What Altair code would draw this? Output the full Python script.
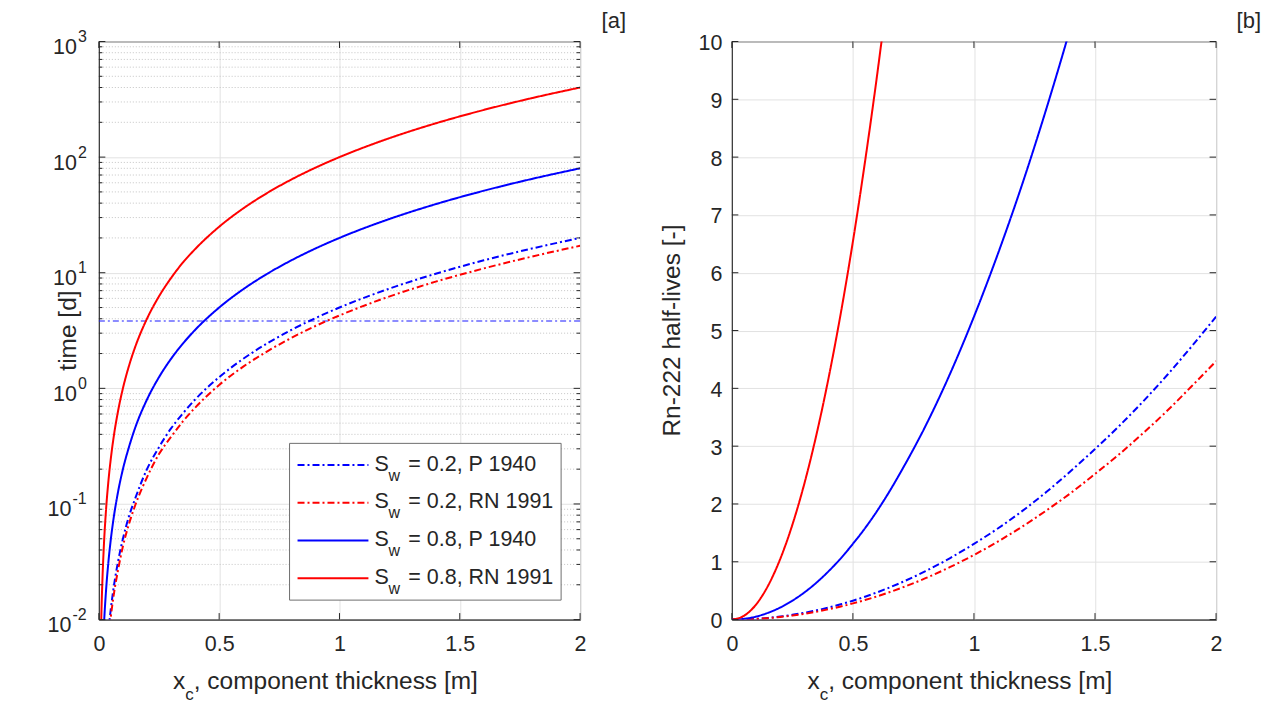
import altair as alt
import pandas as pd

# ---------------- data ----------------
series_keys = ["sw02_p1940", "sw02_rn1991", "sw08_p1940", "sw08_rn1991"]
series_colors = ["#0000ff", "#ff0000", "#0000ff", "#ff0000"]
series_dashes = [[7, 3, 2, 3], [7, 3, 2, 3], [1, 0], [1, 0]]
legend_sw = ["0.2", "0.2", "0.8", "0.8"]
legend_ref = ["P 1940", "RN 1991", "P 1940", "RN 1991"]

# panel [a]: time [d] (log axis)
x_a = [0.005, 0.01, 0.015, 0.02, 0.03, 0.04, 0.05, 0.06, 0.08, 0.1, 0.125, 0.15, 0.2,
       0.25, 0.3, 0.35, 0.4, 0.5, 0.6, 0.7, 0.8, 0.9, 1.0, 1.2, 1.4, 1.6, 1.8, 2.0]
t_sw02_p1940 = [0.000125, 0.0005, 0.0011, 0.002, 0.0045, 0.008, 0.0125, 0.018, 0.032, 0.05,
                0.078, 0.11, 0.2, 0.31, 0.45, 0.61, 0.8, 1.25, 1.8, 2.45, 3.2, 4.05, 5.0,
                7.2, 9.8, 12.8, 16.2, 20.0]
t_sw02_rn1991 = [0.0001, 0.00043, 0.00096, 0.0017, 0.0038, 0.0068, 0.0107, 0.0154, 0.027,
                 0.043, 0.067, 0.096, 0.17, 0.27, 0.38, 0.52, 0.68, 1.07, 1.54, 2.09, 2.73,
                 3.46, 4.27, 6.15, 8.37, 10.9, 13.8, 17.1]
t_sw08_p1940 = [0.0005, 0.002, 0.0045, 0.008, 0.018, 0.032, 0.05, 0.072, 0.128, 0.2, 0.31,
                0.45, 0.8, 1.25, 1.8, 2.45, 3.2, 5.0, 7.2, 9.8, 12.8, 16.2, 20.0, 28.8, 39.2,
                51.2, 64.8, 80.0]
t_sw08_rn1991 = [0.0025, 0.01, 0.0225, 0.04, 0.09, 0.16, 0.25, 0.36, 0.64, 1.0, 1.56, 2.25,
                 4.0, 6.25, 9.0, 12.3, 16.0, 25.0, 36.0, 49.0, 64.0, 81.0, 100.0, 144.0,
                 196.0, 256.0, 324.0, 400.0]
rn222_half_life_d = 3.82

# panel [b]: Rn-222 half-lives [-]
x_b = [0, 0.05, 0.1, 0.15, 0.2, 0.25, 0.3, 0.35, 0.4, 0.45, 0.5, 0.55, 0.6, 0.65, 0.7,
       0.8, 0.9, 1.0, 1.1, 1.2, 1.3, 1.4, 1.5, 1.6, 1.7, 1.8, 1.9, 2.0]
h_sw02_p1940 = [0, 0.0033, 0.013, 0.029, 0.052, 0.082, 0.118, 0.160, 0.209, 0.265, 0.327,
                0.396, 0.471, 0.553, 0.641, 0.838, 1.06, 1.31, 1.58, 1.88, 2.21, 2.57, 2.95,
                3.35, 3.78, 4.24, 4.73, 5.24]
h_sw02_rn1991 = [0, 0.0028, 0.011, 0.025, 0.045, 0.070, 0.101, 0.137, 0.179, 0.226, 0.280,
                 0.338, 0.402, 0.472, 0.548, 0.716, 0.906, 1.118, 1.353, 1.61, 1.89, 2.19,
                 2.52, 2.86, 3.23, 3.62, 4.04, 4.47]
h_sw08_p1940 = [0, 0.013, 0.052, 0.118, 0.209, 0.327, 0.471, 0.641, 0.838, 1.06, 1.31, 1.58,
                1.88, 2.21, 2.57, 3.35, 4.24, 5.24, 6.34, 7.54, 8.85, 10.26, 11.78, 13.40,
                15.13, 16.96, 18.9, 20.9]
h_sw08_rn1991 = [0, 0.065, 0.26, 0.59, 1.05, 1.64, 2.36, 3.21, 4.19, 5.30, 6.54, 7.92, 9.42,
                 11.06, 12.83, 16.8, 21.2, 26.2, 31.7, 37.7, 44.2, 51.3, 58.9, 67.0, 75.7,
                 84.8, 94.5, 104.7]

x_ticks = [0, 0.5, 1, 1.5, 2]
y_exponents_a = [-2, -1, 0, 1, 2, 3]
minor_multipliers = [2, 3, 4, 5, 6, 7, 8, 9]
y_ticks_b = [0, 1, 2, 3, 4, 5, 6, 7, 8, 9, 10]

# ---------------- style ----------------
FONT = "Liberation Sans"
INK = "#262626"
W1, H1 = 482, 579
W2, H2 = 485, 579
TICK_FS = 21.5
TITLE_FS = 24.5
SUB_FS = 16


def long_df(xs, ys_list):
    rows = []
    for key, ys in zip(series_keys, ys_list):
        for x, y in zip(xs, ys):
            rows.append({"x": x, "y": y, "series": key})
    return pd.DataFrame(rows)


df_a = long_df(x_a, [t_sw02_p1940, t_sw02_rn1991, t_sw08_p1940, t_sw08_rn1991])
df_b = long_df(x_b, [h_sw02_p1940, h_sw02_rn1991, h_sw08_p1940, h_sw08_rn1991])

decades = [10.0 ** e for e in y_exponents_a]
minor_vals = [m * 10.0 ** e for e in y_exponents_a[:-1] for m in minor_multipliers]

xscale = alt.Scale(domain=[0, 2], nice=False, zero=False)
yscale_a = alt.Scale(type="log", domain=[0.01, 1000], nice=False)
yscale_b = alt.Scale(domain=[0, 10], nice=False)

color_scale = alt.Scale(domain=series_keys, range=series_colors)
dash_scale = alt.Scale(domain=series_keys, range=series_dashes)

xaxis = alt.Axis(values=x_ticks, format="~r", title=None, grid=True, ticks=False,
                 tickSize=0, labelPadding=14, labelFlush=False)
yaxis_a = alt.Axis(values=decades, labels=False, title=None, grid=True, ticks=False, tickSize=0)
yaxis_b = alt.Axis(values=y_ticks_b, format="~r", title=None, grid=True, ticks=False,
                   tickSize=0, labelPadding=10, labelOffset=2, labelFlush=False)


def one(text):
    return pd.DataFrame({"t": [text]})


def text_at(text, x, y, size=TICK_FS, align="left", baseline="alphabetic", angle=0):
    return alt.Chart(one(text)).mark_text(
        font=FONT, fontSize=size, color=INK, align=align, baseline=baseline, angle=angle
    ).encode(text="t:N", x=alt.value(x), y=alt.value(y))


def curves(df, yscale, yaxis):
    return alt.Chart(df).mark_line(strokeWidth=2, clip=True, interpolate="monotone").encode(
        x=alt.X("x:Q", scale=xscale, axis=xaxis),
        y=alt.Y("y:Q", scale=yscale, axis=yaxis),
        color=alt.Color("series:N", scale=color_scale, legend=None),
        strokeDash=alt.StrokeDash("series:N", scale=dash_scale, legend=None),
    )


def x_ticks_layer(H):
    d = pd.DataFrame({"v": x_ticks})
    bottom = alt.Chart(d).mark_rule(color=INK, strokeWidth=1).encode(
        x=alt.X("v:Q", scale=xscale, axis=xaxis), y=alt.value(H), y2=alt.value(H - 6.5))
    top = alt.Chart(d).mark_rule(color=INK, strokeWidth=1).encode(
        x=alt.X("v:Q", scale=xscale, axis=xaxis), y=alt.value(0), y2=alt.value(6.5))
    return [bottom, top]


def y_ticks_layer(vals, yscale, yaxis, W, length):
    d = pd.DataFrame({"v": vals})
    left = alt.Chart(d).mark_rule(color=INK, strokeWidth=1).encode(
        y=alt.Y("v:Q", scale=yscale, axis=yaxis), x=alt.value(0), x2=alt.value(length))
    right = alt.Chart(d).mark_rule(color=INK, strokeWidth=1).encode(
        y=alt.Y("v:Q", scale=yscale, axis=yaxis), x=alt.value(W), x2=alt.value(W - length))
    return [left, right]


def x_title(W, H):
    fs, sfs = 24.5, 17
    w_x = 0.5 * fs
    w_c = 0.5 * sfs
    w_rest = 11.616 * fs
    start = W / 2 - (w_x + w_c + w_rest) / 2 - 14
    base = H + 70
    return [
        text_at("x", start, base, size=fs),
        text_at("c", start + w_x, base + 11, size=sfs),
        text_at(", component thickness [m]", start + w_x + w_c, base, size=fs),
    ]


# ---------------- panel [a] ----------------
minor_grid = alt.Chart(pd.DataFrame({"v": minor_vals})).mark_rule(
    color="#c4c4c4", strokeWidth=1, strokeDash=[1, 2]
).encode(y=alt.Y("v:Q", scale=yscale_a, axis=yaxis_a))

half_life_line = alt.Chart(pd.DataFrame({"v": [rn222_half_life_d]})).mark_rule(
    color="#1a1aff", strokeWidth=1.1, strokeDash=[6, 3, 2, 3]
).encode(y=alt.Y("v:Q", scale=yscale_a, axis=yaxis_a))

lines_a = curves(df_a, yscale_a, yaxis_a)

# legend (inside panel a)
LX0, LX1, LY0, LY1 = 191, 463, 402.5, 559.5
legend_layers = [
    alt.Chart(one("")).mark_rect(fill="white", stroke="#6e6e6e", strokeWidth=1).encode(
        x=alt.value(LX0), x2=alt.value(LX1), y=alt.value(LY0), y2=alt.value(LY1))
]
for i in range(4):
    ry = 424.2 + i * 37.8
    legend_layers.append(
        alt.Chart(one("")).mark_rule(color=series_colors[i], strokeWidth=2,
                                    strokeDash=series_dashes[i]).encode(
            x=alt.value(199), x2=alt.value(270), y=alt.value(ry)))
    legend_layers.append(text_at("S", 276, ry + 5.5))
    legend_layers.append(text_at("w", 290, ry + 15.5, size=SUB_FS))
    legend_layers.append(text_at(f"= {legend_sw[i]}, {legend_ref[i]}", 310, ry + 5.5))

# y tick labels 10^n
exp_df = pd.DataFrame({"e": y_exponents_a})
exp_base = alt.Chart(exp_df).transform_calculate(
    v="pow(10, datum.e)",
    es="datum.e < 0 ? '-' + abs(datum.e) : '' + datum.e",
)
ylab_layers = []
for cond, xr in [("datum.e >= 0", -22), ("datum.e < 0", -27.5)]:
    sub = exp_base.transform_filter(cond)
    ylab_layers.append(sub.mark_text(font=FONT, fontSize=TICK_FS, color=INK, align="right",
                                     baseline="alphabetic", dy=12.5).encode(
        y=alt.Y("v:Q", scale=yscale_a, axis=yaxis_a), x=alt.value(xr), text=alt.value("10")))
    ylab_layers.append(sub.mark_text(font=FONT, fontSize=SUB_FS, color=INK, align="left",
                                     baseline="alphabetic", dy=0.5).encode(
        y=alt.Y("v:Q", scale=yscale_a, axis=yaxis_a), x=alt.value(xr + 1), text="es:N"))

panel_a = alt.layer(
    minor_grid,
    half_life_line,
    lines_a,
    *legend_layers,
    *x_ticks_layer(H1),
    *y_ticks_layer(decades, yscale_a, yaxis_a, W1, 6.5),
    *y_ticks_layer(minor_vals, yscale_a, yaxis_a, W1, 3.5),
    *ylab_layers,
    text_at("time [d]", -30, H1 / 2, size=TITLE_FS, align="center", baseline="middle", angle=270),
    text_at("[a]", W1 + 46, -21, size=22, align="right", baseline="middle"),
    *x_title(W1, H1),
).properties(width=W1, height=H1)

# ---------------- panel [b] ----------------
lines_b = curves(df_b, yscale_b, yaxis_b)

panel_b = alt.layer(
    lines_b,
    *x_ticks_layer(H2),
    *y_ticks_layer(y_ticks_b, yscale_b, yaxis_b, W2, 6.5),
    text_at("Rn-222 half-lives [-]", -59, H2 / 2, size=TITLE_FS, align="center",
            baseline="middle", angle=270),
    text_at("[b]", W2 + 45, -21, size=22, align="right", baseline="middle"),
    *x_title(W2, H2),
).properties(width=W2, height=H2)

chart = alt.hconcat(panel_a, panel_b, spacing=32).properties(
    padding={"left": 39, "top": 0, "right": 0, "bottom": 0},
    background="white",
).configure_view(
    stroke=INK, strokeWidth=1
).configure_axis(
    domainColor=INK, domainWidth=1, gridColor="#e2e2e2", gridWidth=1,
    labelFont=FONT, labelFontSize=TICK_FS, labelColor=INK,
)

chart.save("out.html", embed_options={"renderer": "svg", "actions": False})
